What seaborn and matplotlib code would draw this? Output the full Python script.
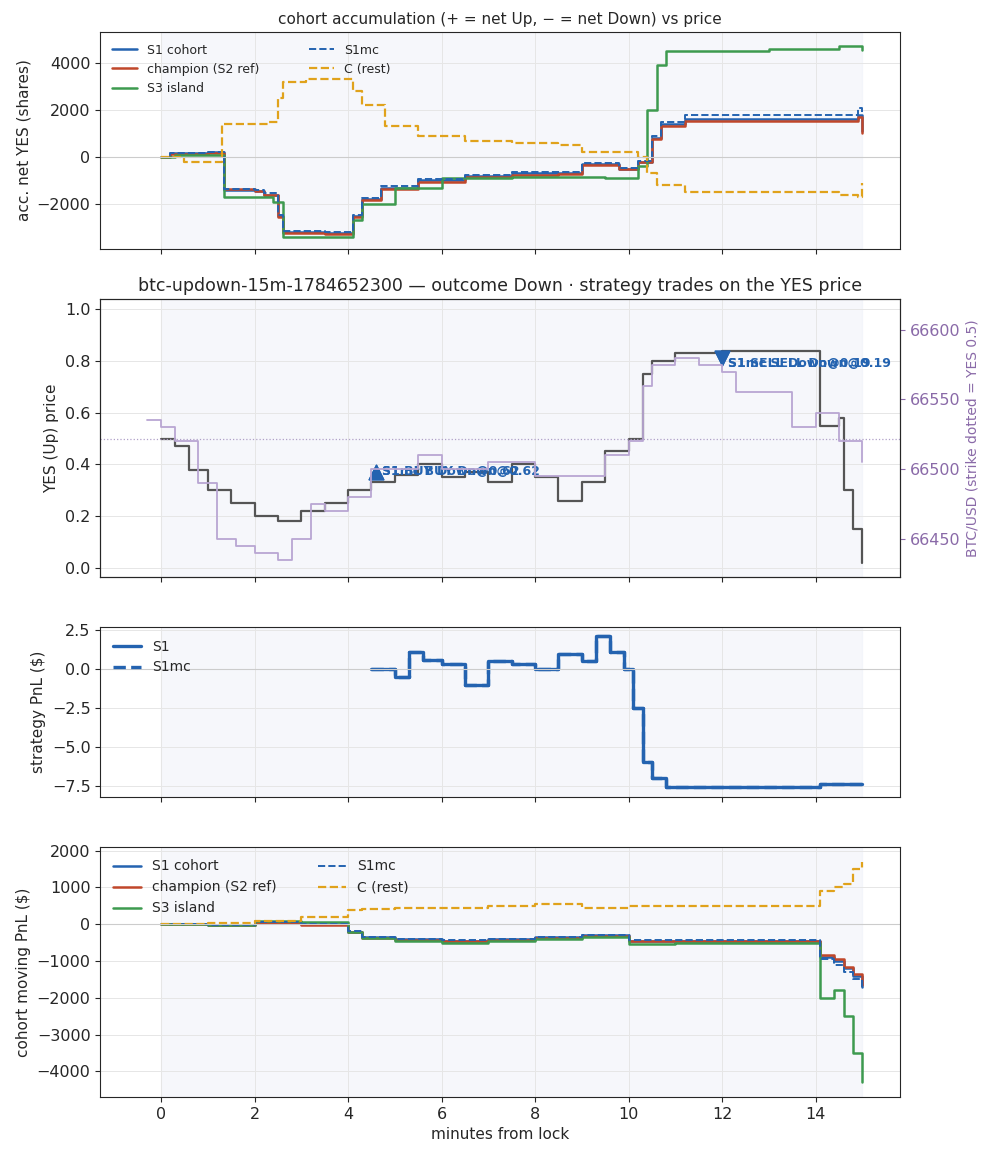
import numpy as np
import pandas as pd
import matplotlib
matplotlib.use('Agg')
import matplotlib.pyplot as plt
import seaborn as sns

sns.set_style('ticks')
plt.rcParams['font.family'] = ['DejaVu Sans']
plt.rcParams['font.size'] = 11
plt.rcParams['xtick.labelsize'] = 11.5
plt.rcParams['ytick.labelsize'] = 11.5

BLUE, RED, GREEN, GOLD = '#2463b0', '#c0472a', '#3d9a4f', '#e0a21b'

# panel 1: cohort accumulation (time in minutes, shares)
s1_t = [0, 0.2, 1.0, 1.35, 2.0, 2.2, 2.5, 2.6, 3.5, 4.1, 4.3, 4.7, 5.5, 6.5, 7.5, 8.5, 9.0, 9.8, 10.2, 10.5, 10.7, 11.2, 14.5, 14.9, 15.0]
s1_v = [0, 150, 200, -1400, -1450, -1600, -2500, -3200, -3250, -2500, -1800, -1300, -1000, -800, -700, -700, -300, -500, -200, 800, 1400, 1600, 1600, 1800, 1100]
ch_v = [0, 130, 180, -1380, -1440, -1620, -2550, -3250, -3280, -2550, -1850, -1350, -1050, -850, -750, -720, -320, -520, -230, 750, 1300, 1550, 1550, 1700, 1000]
mc_v = [0, 160, 210, -1350, -1400, -1550, -2450, -3150, -3200, -2450, -1750, -1250, -950, -750, -650, -650, -250, -450, -150, 900, 1500, 1800, 1800, 2100, 1900]
s3_t = [0, 0.3, 1.35, 2.4, 2.6, 4.1, 4.3, 5.0, 6.0, 7.5, 9.5, 10.2, 10.4, 10.6, 10.8, 13.0, 14.5, 15.0]
s3_v = [0, 100, -1700, -1900, -3400, -2700, -2000, -1300, -900, -850, -900, -400, 2000, 3900, 4500, 4600, 4700, 4550]
c_t = [0, 0.5, 1.3, 2.3, 2.5, 2.6, 3.1, 4.1, 4.3, 4.8, 5.5, 6.5, 7.5, 8.5, 9.0, 10.2, 10.4, 10.6, 11.2, 14.5, 14.9, 15.0]
c_v = [0, -200, 1400, 1500, 2500, 3200, 3300, 2800, 2200, 1300, 900, 700, 600, 500, 200, 0, -700, -1200, -1500, -1600, -1700, -1100]

# panel 2: YES price and BTC
yes_t = [0, 0.3, 0.6, 1.0, 1.5, 2.0, 2.5, 3.0, 3.5, 4.0, 4.5, 5.0, 5.5, 6.0, 6.5, 7.0, 7.5, 8.0, 8.5, 9.0, 9.5, 10.0, 10.3, 10.5, 11.0, 11.5, 12.0, 14.0, 14.1, 14.5, 14.6, 14.8, 15.0]
yes_v = [0.5, 0.47, 0.38, 0.3, 0.25, 0.2, 0.18, 0.22, 0.25, 0.3, 0.33, 0.36, 0.4, 0.35, 0.37, 0.33, 0.4, 0.35, 0.26, 0.33, 0.45, 0.5, 0.75, 0.8, 0.83, 0.83, 0.84, 0.84, 0.55, 0.58, 0.3, 0.15, 0.02]
btc_t = [-0.3, 0, 0.3, 0.8, 1.2, 1.6, 2.0, 2.5, 2.8, 3.2, 3.5, 4.0, 4.5, 5.0, 5.5, 6.0, 7.0, 8.0, 9.0, 9.5, 10.0, 10.3, 10.5, 11.0, 11.5, 12.0, 12.3, 13.5, 14.0, 14.5, 15.0]
btc_v = [66535, 66530, 66520, 66490, 66450, 66445, 66440, 66435, 66450, 66475, 66470, 66480, 66500, 66500, 66510, 66500, 66505, 66495, 66495, 66510, 66520, 66560, 66575, 66580, 66575, 66570, 66555, 66530, 66540, 66520, 66505]
strike = 66522
trades = [('S1 BUY Down@0.62', 4.6, 0.37, '^'), ('S1mc BUY Down@0.62', 4.6, 0.37, '^'),
          ('S1 SELL Down@0.19', 12.0, 0.81, 'v'), ('S1mc SELL Down@0.19', 12.0, 0.81, 'v')]

# panel 3: strategy PnL
pnl_t = [4.5, 5.0, 5.3, 5.6, 6.0, 6.5, 7.0, 7.5, 8.0, 8.5, 9.0, 9.3, 9.6, 9.9, 10.1, 10.3, 10.5, 10.8, 14.0, 14.1, 15.0]
pnl_v = [0, -0.5, 1.1, 0.6, 0.3, -1.0, 0.5, 0.3, 0.0, 1.0, 0.5, 2.1, 1.1, 0.0, -2.5, -6.0, -7.0, -7.6, -7.6, -7.4, -7.4]

# panel 4: cohort moving PnL
m_t = [0, 1, 2, 3, 4, 4.3, 5, 6, 7, 8, 9, 10, 11, 14, 14.1, 14.4, 14.6, 14.8, 15]
m_s1 = [0, -20, 50, 0, -200, -350, -400, -450, -400, -350, -300, -450, -450, -450, -900, -1000, -1200, -1400, -1700]
m_ch = [0, -30, 40, -10, -220, -380, -420, -470, -420, -370, -310, -470, -460, -460, -850, -950, -1150, -1350, -1650]
m_mc = [0, -10, 60, 10, -190, -340, -390, -440, -390, -340, -290, -440, -440, -440, -950, -1100, -1300, -1500, -1800]
m_s3 = [0, -20, 80, 50, -200, -380, -450, -500, -450, -400, -350, -550, -500, -500, -2000, -1800, -2500, -3500, -4300]
m_c = [0, 20, 100, 200, 400, 420, 450, 450, 500, 550, 450, 500, 500, 500, 900, 1000, 1100, 1500, 1700]

fig, axes = plt.subplots(4, 1, figsize=(9.93, 11.56), sharex=True,
                         gridspec_kw={'height_ratios': [218, 280, 171, 252]})
fig.subplots_adjust(left=0.101, right=0.906, top=0.972, bottom=0.051, hspace=0.22)


def step(ax, t, v, color, label, ls='-', lw=1.8):
    sns.lineplot(x=t, y=v, ax=ax, color=color, label=label, linestyle=ls, lw=lw,
                 drawstyle='steps-post', estimator=None)


for ax in axes:
    ax.axvspan(0, 15, color='#eef1f8', alpha=0.5, zorder=0)
    ax.grid(True, color='#e6e6e6', lw=0.7)
    ax.set_axisbelow(True)

ax = axes[0]
step(ax, s1_t, s1_v, BLUE, 'S1 cohort')
step(ax, s1_t, ch_v, RED, 'champion (S2 ref)')
step(ax, s3_t, s3_v, GREEN, 'S3 island')
step(ax, s1_t, mc_v, BLUE, 'S1mc', '--', 1.4)
step(ax, c_t, c_v, GOLD, 'C (rest)', '--', 1.6)
ax.axhline(0, color='#cccccc', lw=0.8)
ax.set_ylim(-3900, 5300)
ax.set_ylabel('acc. net YES (shares)')
ax.set_title('cohort accumulation (+ = net Up, \u2212 = net Down) vs price', fontsize=11)
ax.legend(loc='upper left', ncol=2, fontsize=9, frameon=False, columnspacing=4)

ax = axes[1]
step(ax, yes_t, yes_v, '#555555', None, lw=1.6)
ax.axhline(0.5, color='#b0a0c8', ls=':', lw=0.9)
for name, t, y, m in trades:
    ax.scatter([t], [y], marker=m, s=110, color=BLUE, zorder=5)
    ax.annotate(name, (t, y), xytext=(4, -2 if m == '^' else -6), textcoords='offset points',
                color=BLUE, fontsize=9, fontweight='bold')
ax.set_ylim(-0.035, 1.04)
ax.set_ylabel('YES (Up) price')
ax.set_title('btc-updown-15m-1784652300 \u2014 outcome Down \u00b7 strategy trades on the YES price', fontsize=12.5)
ax2 = ax.twinx()
step(ax2, btc_t, btc_v, '#b9a6d3', None, lw=1.3)
ax2.set_ylim(66423, 66622)
ax2.set_yticks([66450, 66500, 66550, 66600])
ax2.set_ylabel('BTC/USD (strike dotted = YES 0.5)', color='#8a6aa8', fontsize=10)
ax2.tick_params(axis='y', colors='#8a6aa8', labelsize=11.5)

ax = axes[2]
step(ax, pnl_t, pnl_v, BLUE, 'S1', lw=2.4)
step(ax, pnl_t, pnl_v, BLUE, 'S1mc', '--', 2.4)
ax.axhline(0, color='#cccccc', lw=0.8)
ax.set_ylim(-8.2, 2.7)
ax.set_yticks([-7.5, -5.0, -2.5, 0.0, 2.5])
ax.set_ylabel('strategy PnL ($)')
ax.legend(loc='upper left', fontsize=10, frameon=False)

ax = axes[3]
step(ax, m_t, m_s1, BLUE, 'S1 cohort')
step(ax, m_t, m_ch, RED, 'champion (S2 ref)')
step(ax, m_t, m_s3, GREEN, 'S3 island')
step(ax, m_t, m_mc, BLUE, 'S1mc', '--', 1.4)
step(ax, m_t, m_c, GOLD, 'C (rest)', '--', 1.6)
ax.axhline(0, color='#cccccc', lw=0.8)
ax.set_ylim(-4700, 2100)
ax.set_ylabel('cohort moving PnL ($)')
ax.set_xlabel('minutes from lock')
ax.legend(loc='upper left', ncol=2, fontsize=10, frameon=False, columnspacing=3)
ax.set_xlim(-1.3, 15.8)
ax.set_xticks(range(0, 16, 2))

fig.savefig('out.png', dpi=100)
